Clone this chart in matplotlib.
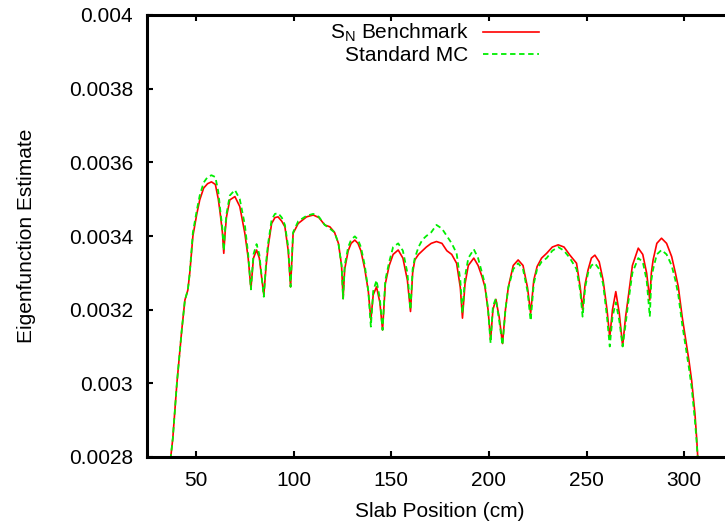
import matplotlib
matplotlib.use("Agg")
import matplotlib.pyplot as plt
from matplotlib.ticker import FuncFormatter, MultipleLocator

plt.rcParams['font.family'] = ['Liberation Sans', 'DejaVu Sans']
plt.rcParams['mathtext.default'] = 'regular'

# slab position (cm), shared by both curves
x = [35.5, 38.2, 40.3, 42.8, 44.4, 45.9, 46.9, 48.5, 50.5, 52.0,
     54.0, 56.0, 58.0, 60.0, 61.5, 62.5, 63.6, 64.3, 65.0, 65.7,
     67.4, 70.0, 72.5, 75.1, 76.8, 78.2, 79.5, 81.1, 82.5, 84.8,
     86.0, 87.0, 88.8, 90.5, 92.1, 94.0, 95.6, 97.3, 98.5, 99.8,
     102.4, 106.7, 110.1, 113.0, 116.0, 118.6, 121.0, 123.0, 124.6, 125.4,
     126.2, 128.0, 129.5, 131.4, 133.0, 134.5, 136.5, 138.3, 139.6, 140.8,
     142.5, 144.2, 145.6, 147.0, 149.0, 151.0, 153.6, 156.0, 158.3, 159.9,
     161.0, 162.1, 164.0, 166.0, 168.0, 170.5, 173.2, 176.0, 178.5, 181.0,
     183.5, 185.4, 186.5, 187.8, 189.5, 192.3, 194.5, 196.5, 198.0, 199.6,
     200.9, 202.1, 203.6, 205.3, 207.0, 208.5, 210.0, 212.5, 215.0, 217.5,
     219.8, 221.4, 223.0, 224.7, 227.0, 229.6, 232.5, 235.5, 238.5, 241.5,
     244.9, 246.8, 248.0, 249.3, 250.8, 252.5, 254.3, 256.5, 258.5, 260.5,
     261.9, 263.3, 265.0, 266.8, 268.5, 270.0, 271.4, 273.5, 276.5, 278.8,
     280.8, 282.4, 283.2, 284.1, 286.0, 288.4, 291.0, 293.6, 295.5, 297.0,
     299.0, 301.3, 302.5, 303.8, 305.5, 306.4, 307.4]

# S_N benchmark eigenfunction
sn = [0.00272, 0.00285, 0.00300, 0.003145, 0.003226, 0.003253, 0.00330, 0.00340, 0.00346, 0.003498,
      0.00353, 0.003542, 0.003547, 0.00354, 0.00350, 0.00346, 0.00341, 0.003353, 0.00341, 0.003452,
      0.003498, 0.003507, 0.00348, 0.003407, 0.00334, 0.003258, 0.00334, 0.003362, 0.00334, 0.00324,
      0.00332, 0.00337, 0.003434, 0.00345, 0.003452, 0.00344, 0.003425, 0.00336, 0.003262, 0.003407,
      0.003434, 0.003452, 0.003457, 0.00345, 0.00343, 0.003425, 0.00341, 0.00338, 0.00332, 0.00323,
      0.00331, 0.00336, 0.00338, 0.003389, 0.00338, 0.00336, 0.00331, 0.00325, 0.003172, 0.00324,
      0.003262, 0.00322, 0.003145, 0.00327, 0.00332, 0.00335, 0.003362, 0.00334, 0.00328, 0.003195,
      0.00330, 0.003335, 0.00335, 0.00336, 0.00337, 0.00338, 0.003385, 0.00338, 0.00336, 0.00335,
      0.003326, 0.00326, 0.003177, 0.00327, 0.00332, 0.00334, 0.00332, 0.00329, 0.003262, 0.00320,
      0.003118, 0.00320, 0.003228, 0.00318, 0.003108, 0.00320, 0.003262, 0.00332, 0.003335, 0.00332,
      0.00326, 0.00319, 0.00328, 0.003317, 0.00334, 0.003353, 0.00337, 0.003376, 0.00337, 0.003348,
      0.003326, 0.00326, 0.00320, 0.00327, 0.003308, 0.00334, 0.003348, 0.00333, 0.00328, 0.00320,
      0.003125, 0.00320, 0.003249, 0.00319, 0.003101, 0.00318, 0.003235, 0.00332, 0.003367, 0.00335,
      0.003299, 0.003226, 0.00330, 0.003335, 0.00338, 0.003394, 0.00338, 0.003344, 0.00330, 0.003262,
      0.00318, 0.00310, 0.00306, 0.003009, 0.002919, 0.00285, 0.00276]

# standard Monte Carlo estimate
mc = [0.00272, 0.00285, 0.00300, 0.003145, 0.003226, 0.003253, 0.00330, 0.00341, 0.00347, 0.00351,
      0.003545, 0.00356, 0.003565, 0.00356, 0.00352, 0.00347, 0.00342, 0.00336, 0.00342, 0.00346,
      0.00351, 0.003525, 0.00350, 0.00343, 0.00335, 0.003255, 0.00335, 0.003378, 0.00335, 0.003235,
      0.00333, 0.00338, 0.003444, 0.00346, 0.003462, 0.00345, 0.00343, 0.00337, 0.003262, 0.00341,
      0.00344, 0.003455, 0.00346, 0.003452, 0.00343, 0.00342, 0.00341, 0.00338, 0.00332, 0.00323,
      0.00332, 0.00337, 0.00339, 0.003399, 0.00339, 0.00337, 0.00332, 0.00325, 0.003154, 0.00325,
      0.00328, 0.00323, 0.003145, 0.00328, 0.00333, 0.00337, 0.00338, 0.00336, 0.00330, 0.00320,
      0.00331, 0.00334, 0.00337, 0.00339, 0.00340, 0.00341, 0.00343, 0.00342, 0.00340, 0.00338,
      0.003353, 0.00328, 0.00319, 0.00329, 0.00334, 0.003364, 0.00334, 0.00330, 0.00327, 0.00320,
      0.003109, 0.00321, 0.00323, 0.00317, 0.003104, 0.00320, 0.00326, 0.00331, 0.003326, 0.00331,
      0.00325, 0.00317, 0.00327, 0.00331, 0.00333, 0.00334, 0.00336, 0.00337, 0.00336, 0.00334,
      0.00331, 0.00325, 0.003181, 0.00326, 0.00330, 0.00332, 0.003326, 0.00331, 0.00327, 0.00318,
      0.00310, 0.00318, 0.00322, 0.00317, 0.00310, 0.00316, 0.00322, 0.00330, 0.00334, 0.00333,
      0.00328, 0.003181, 0.00328, 0.00331, 0.00335, 0.003362, 0.00335, 0.00332, 0.00328, 0.00324,
      0.00316, 0.00308, 0.00304, 0.00299, 0.00290, 0.00284, 0.00276]

fig = plt.figure(figsize=(7.25, 5.27), dpi=100)
ax = fig.add_axes([147 / 725, 1 - 457 / 527, 586 / 725, 442 / 527])

ax.plot(x, sn, color='#ff0000', lw=1.2, label=r'S$_N$ Benchmark')
ax.plot(x, mc, color='#00ee00', lw=1.3, linestyle=(0, (3, 2)), label='Standard MC')

ax.set_xlim(25, 325)
ax.set_ylim(0.0028, 0.004)
ax.set_xticks([50, 100, 150, 200, 250, 300])
ax.yaxis.set_major_locator(MultipleLocator(0.0002))
ax.yaxis.set_major_formatter(FuncFormatter(lambda v, p: '%g' % round(v, 6)))

ax.tick_params(direction='in', length=4.5, width=1.5, labelsize=15,
               top=True, right=True, pad=10)
for s in ax.spines.values():
    s.set_linewidth(2.2)

ax.set_xlabel('Slab Position (cm)', fontsize=15, labelpad=9)
ax.set_ylabel('Eigenfunction Estimate', fontsize=15, labelpad=24)

ax.legend(loc='upper right', bbox_to_anchor=(539 / 725, 1 - 22 / 527),
          bbox_transform=fig.transFigure, frameon=False, fontsize=15,
          markerfirst=False, handlelength=2.7, handletextpad=0.7,
          labelspacing=0.1, borderpad=0, borderaxespad=0)

fig.savefig('out.png', dpi=100)
